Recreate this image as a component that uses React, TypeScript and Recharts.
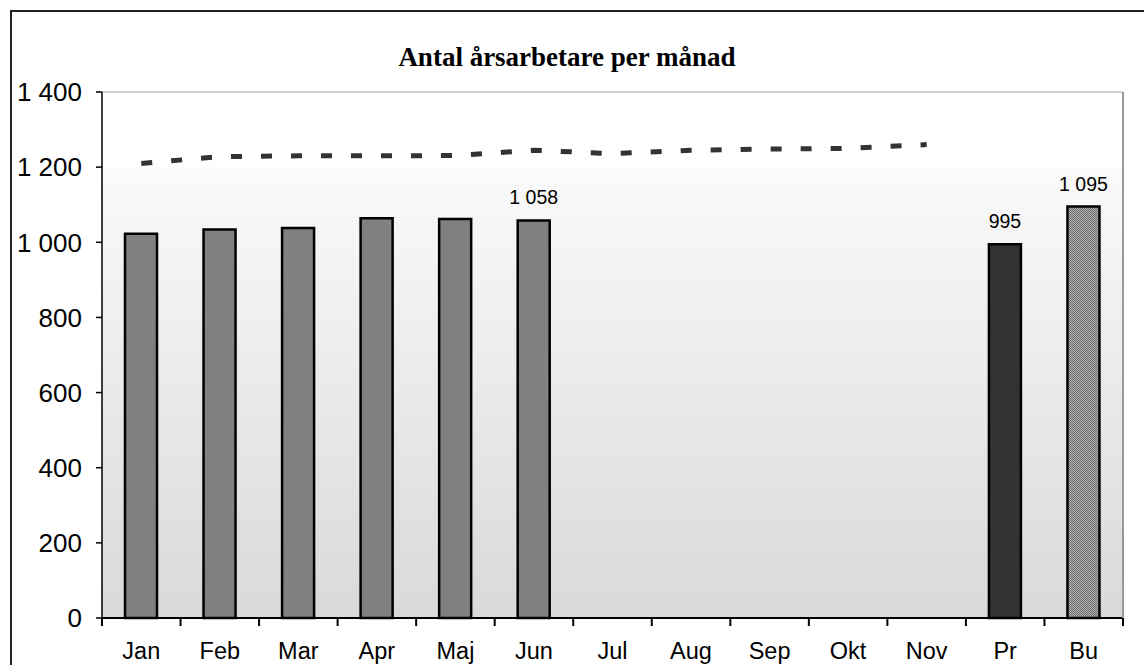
import React from 'react';
import {
    ComposedChart,
    Bar,
    Line,
    Cell,
    XAxis,
    YAxis,
    CartesianGrid,
    LabelList
} from 'recharts';

const months = ['Jan', 'Feb', 'Mar', 'Apr', 'Maj', 'Jun', 'Jul', 'Aug', 'Sep', 'Okt', 'Nov', 'Pr', 'Bu'];
const barValues = [1023, 1034, 1038, 1064, 1062, 1058, null, null, null, null, null, 995, 1095];
const lineValues = [1210, 1228, 1230, 1230, 1231, 1245, 1236, 1245, 1248, 1250, 1260, null, null];
const labelValues = [null, null, null, null, null, 1058, null, null, null, null, null, 995, 1095];
const yTicks = [0, 200, 400, 600, 800, 1000, 1200, 1400];

// thousands separated by a space, as in the original (non-breaking so labels stay on one line)
const fmt = (v: number) => String(v).replace(/\B(?=(\d{3})+(?!\d))/g, '\u00a0');

const data = months.map((m, i) => ({
    name: m,
    value: barValues[i],
    trend: lineValues[i],
    label: labelValues[i] == null ? null : fmt(labelValues[i] as number)
}));

const W = 1144;
const H = 665;
const margin = { top: 92, right: 20, bottom: 7, left: 12 };
const Y_WIDTH = 90;
const halfBand = (W - margin.left - margin.right - Y_WIDTH - 1) / months.length / 2;

const barColor = (m: string) => (m === 'Pr' ? '#333333' : m === 'Bu' ? 'url(#dots)' : '#808080');

function MonthTick(props: any) {
    const { x, y, payload, index } = props;
    return (
        <g>
            <line x1={x - halfBand} x2={x - halfBand} y1={y} y2={y + 8} stroke="#000" strokeWidth={2} />
            {index === months.length - 1 && (
                <line x1={x + halfBand} x2={x + halfBand} y1={y} y2={y + 8} stroke="#000" strokeWidth={2} />
            )}
            <text x={x} y={y + 41} textAnchor="middle" fontSize={23.5} fill="#000"
                fontFamily="'Liberation Sans', Arial, sans-serif">
                {payload.value}
            </text>
        </g>
    );
}

export default function App() {
    return (
        <div style={{ position: 'fixed', left: 0, top: 0, width: W, height: H, overflow: 'hidden', background: '#fff' }}>
            <div style={{
                position: 'absolute', left: 10, top: 10, width: 1300, height: 900,
                border: '2px solid #222', boxSizing: 'border-box'
            }} />
            <div style={{
                position: 'absolute', left: 0, width: 1134, top: 44, textAlign: 'center',
                fontFamily: "'Liberation Serif', 'Times New Roman', serif", fontWeight: 'bold',
                fontSize: 27, lineHeight: 1, color: '#000'
            }}>
                Antal årsarbetare per månad
            </div>
            <div style={{ position: 'absolute', left: 0, top: 0 }}>
                <ComposedChart width={W} height={H} data={data} margin={margin} barCategoryGap={0}>
                    <defs>
                        <linearGradient id="plotBg" x1="0" y1="0" x2="0" y2="1">
                            <stop offset="0" stopColor="#ffffff" />
                            <stop offset="0.14" stopColor="#ffffff" />
                            <stop offset="0.145" stopColor="#fafafa" />
                            <stop offset="1" stopColor="#d9d9d9" />
                        </linearGradient>
                        <pattern id="dots" width="2" height="2" patternUnits="userSpaceOnUse">
                            <rect width="2" height="2" fill="#b0b0b0" />
                            <rect width="1" height="1" fill="#707070" />
                            <rect x="1" y="1" width="1" height="1" fill="#707070" />
                        </pattern>
                    </defs>
                    <CartesianGrid vertical={false} stroke="#a0a0a0" fill="url(#plotBg)" fillOpacity={1} />
                    <XAxis
                        dataKey="name"
                        axisLine={{ stroke: '#000', strokeWidth: 2 }}
                        tickLine={false}
                        tickSize={0}
                        tickMargin={0}
                        height={40}
                        interval={0}
                        tick={<MonthTick />}
                    />
                    <YAxis
                        yAxisId="left"
                        width={Y_WIDTH}
                        domain={[0, 1400]}
                        ticks={yTicks}
                        interval={0}
                        tickFormatter={fmt}
                        axisLine={{ stroke: '#000', strokeWidth: 1.5 }}
                        tickLine={{ stroke: '#000', strokeWidth: 1.5 }}
                        tickSize={6}
                        tickMargin={14}
                        tick={{ fontSize: 26, fill: '#000', fontFamily: "'Liberation Sans', Arial, sans-serif" }}
                    />
                    <YAxis
                        yAxisId="right"
                        orientation="right"
                        width={1}
                        domain={[0, 1400]}
                        tick={false}
                        tickLine={false}
                        axisLine={{ stroke: '#999', strokeWidth: 2 }}
                    />
                    <Bar yAxisId="left" dataKey="value" barSize={32} stroke="#000" strokeWidth={2.5}
                        isAnimationActive={false}>
                        {data.map((d) => (
                            <Cell key={d.name} fill={barColor(d.name)} />
                        ))}
                        <LabelList dataKey="label" position="top" offset={16} fill="#000" fontSize={19.5}
                            fontFamily="'Liberation Sans', Arial, sans-serif" />
                    </Bar>
                    <Line yAxisId="left" dataKey="trend" type="linear" stroke="#333333" strokeWidth={5}
                        strokeDasharray="11 19" dot={false} activeDot={false} connectNulls={false}
                        isAnimationActive={false} />
                </ComposedChart>
            </div>
        </div>
    );
}
